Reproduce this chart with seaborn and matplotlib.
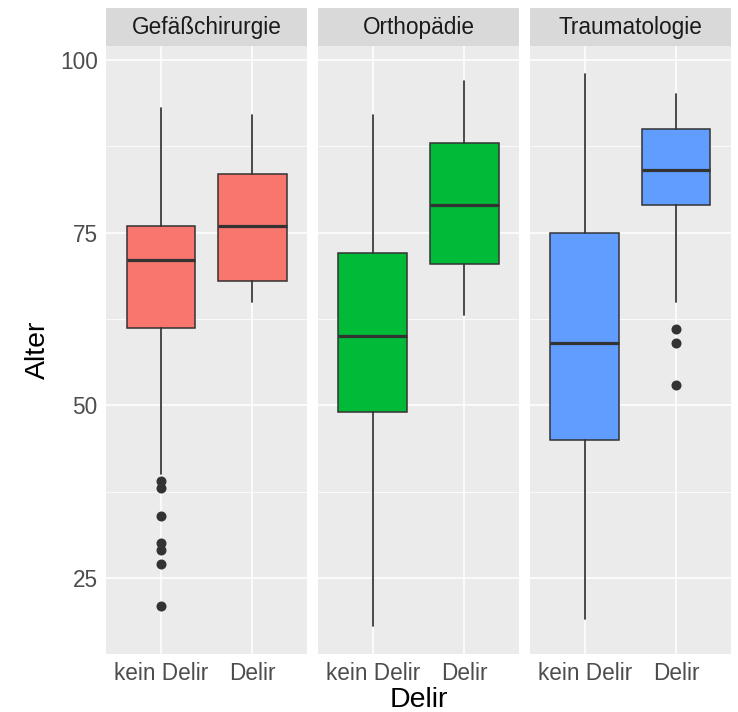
import numpy as np
import pandas as pd
import matplotlib
matplotlib.use("Agg")
import matplotlib.pyplot as plt
from matplotlib.patches import Rectangle
from matplotlib.ticker import FixedLocator
import seaborn as sns

# ---- data ----
facets = ["Gefäßchirurgie", "Orthopädie", "Traumatologie"]
groups = ["kein Delir", "Delir"]
whisker_low = [[40, 65], [18, 63], [19, 65]]
q1 = [[61.2, 68.0], [49.0, 70.5], [45.0, 79.0]]
median = [[71, 76], [60, 79], [59, 84]]
q3 = [[76.0, 83.5], [72.0, 88.0], [75.0, 90.0]]
whisker_high = [[93, 92], [92, 97], [98, 95]]
outliers = [[[21, 27, 29, 30, 34, 38, 39], []],
            [[], []],
            [[], [53, 59, 61]]]
facet_colors = ["#F8766D", "#00BA38", "#619CFF"]
y_ticks = [25, 50, 75, 100]
y_minor = [37.5, 62.5, 87.5]

rows = []
for fi, f in enumerate(facets):
    for gi, g in enumerate(groups):
        rows.append(dict(Fach=f, Delir=g, pos=gi + 1,
                         whislo=whisker_low[fi][gi], q1=q1[fi][gi],
                         med=median[fi][gi], q3=q3[fi][gi],
                         whishi=whisker_high[fi][gi],
                         fliers=outliers[fi][gi],
                         color=facet_colors[fi]))
df = pd.DataFrame(rows)

sns.set_theme(style="darkgrid")
plt.rcParams["font.family"] = ["Liberation Sans", "DejaVu Sans"]
plt.rcParams["axes.facecolor"] = "#EBEBEB"

EDGE = "#333333"
FS = 16.3


def draw_box(data, **kws):
    ax = plt.gca()
    stats = []
    for _, r in data.iterrows():
        stats.append(dict(whislo=r.whislo, q1=r.q1, med=r.med, q3=r.q3,
                          whishi=r.whishi, fliers=np.array(r.fliers, float)))
    bp = ax.bxp(stats, positions=list(data["pos"]), widths=0.75,
                patch_artist=True, showcaps=False,
                boxprops=dict(edgecolor=EDGE, linewidth=1.1),
                medianprops=dict(color=EDGE, linewidth=2.3, solid_capstyle="butt"),
                whiskerprops=dict(color=EDGE, linewidth=1.25),
                flierprops=dict(marker="o", markerfacecolor=EDGE,
                                markeredgecolor=EDGE, markersize=6.2),
                manage_ticks=False, zorder=3)
    for patch, c in zip(bp["boxes"], data["color"]):
        patch.set_facecolor(c)


g = sns.FacetGrid(df, col="Fach", col_order=facets, sharey=True, sharex=True,
                  height=5, aspect=0.5)
g.map_dataframe(draw_box)

fig = g.figure
fig.set_size_inches(7.38, 7.12)
fig.set_dpi(100)
fig.subplots_adjust(left=106 / 738, right=731 / 738, top=1 - 46 / 712,
                    bottom=1 - 654 / 712, wspace=0.053)

for i, (ax, f) in enumerate(zip(g.axes.flat, facets)):
    ax.set_title("")
    ax.set_xlabel("")
    ax.set_ylabel("")
    ax.set_xlim(0.4, 2.6)
    ax.set_ylim(14, 102)
    ax.set_xticks([1, 2])
    ax.set_xticklabels(groups)
    ax.set_yticks(y_ticks)
    ax.yaxis.set_minor_locator(FixedLocator(y_minor))
    ax.grid(which="major", color="white", linewidth=1.1)
    ax.grid(which="minor", axis="y", color="white", linewidth=0.55)
    ax.set_facecolor("#EBEBEB")
    for s in ax.spines.values():
        s.set_visible(False)
    ax.tick_params(axis="both", which="major", length=3.5, width=1.0,
                   color=EDGE, labelcolor="#4D4D4D", labelsize=FS, pad=2.5)
    ax.tick_params(axis="y", which="minor", length=0)
    if i > 0:
        ax.tick_params(axis="y", which="major", left=False, labelleft=False)
    # strip
    ax.add_patch(Rectangle((0, 1.0), 1, 0.062, transform=ax.transAxes,
                           facecolor="#D9D9D9", edgecolor="none", clip_on=False))
    ax.text(0.5, 1.031, f, transform=ax.transAxes, ha="center", va="center",
            fontsize=FS, color="#1A1A1A")

fig.text(418.5 / 738, 1 - 700 / 712, "Delir", ha="center", va="center",
         fontsize=20.5, color="black")
fig.text(38 / 738, 1 - 350 / 712, "Alter", ha="center", va="center",
         rotation=90, fontsize=20.5, color="black")
fig.patch.set_facecolor("white")
fig.savefig("out.png", dpi=100)
